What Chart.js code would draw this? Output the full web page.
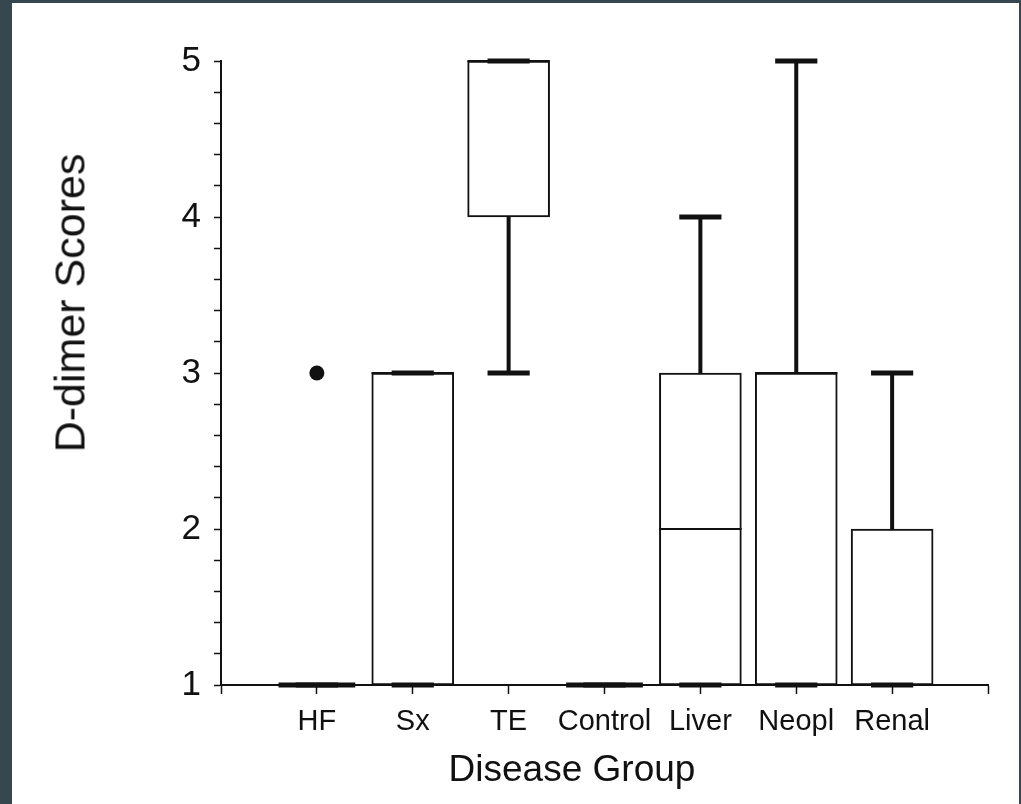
<!DOCTYPE html>
<html>
<head>
<meta charset="utf-8">
<title>D-dimer Scores by Disease Group</title>
<script src="https://cdn.jsdelivr.net/npm/chart.js@4.4.1/dist/chart.umd.min.js"></script>
<style>
  html, body { margin: 0; padding: 0; }
  body { width: 1021px; height: 804px; background: #37474f; position: relative; overflow: hidden; font-family: "Liberation Sans", Arial, sans-serif; }
  #panel { position: absolute; left: 12px; top: 3px; width: 1007px; height: 801px; background: #fff; }
  #chartBox { position: absolute; left: 0; top: 0; width: 1007px; height: 801px; }
  .axis-title { position: absolute; color: #111; white-space: nowrap; line-height: 1; }
  #yTitle { left: 58px; top: 300px; font-size: 43px; transform: translate(-50%, -50%) rotate(-90deg); }
  #xTitle { left: 560px; top: 765px; font-size: 37px; transform: translate(-50%, -50%); }
</style>
</head>
<body>
<div id="panel">
  <div id="chartBox"><canvas id="boxChart"></canvas></div>
  <div class="axis-title" id="yTitle">D-dimer Scores</div>
  <div class="axis-title" id="xTitle">Disease Group</div>
</div>
<script>
// box plot values
const categories = ["HF", "Sx", "TE", "Control", "Liver", "Neopl", "Renal"];
const minValues = [1, 1, 3, 1, 1, 1, 1];
const q1Values = [1, 1, 4, 1, 1, 1, 1];
const medianValues = [1, 3, 5, 1, 2, 3, 1];
const q3Values = [1, 3, 5, 1, 3, 3, 2];
const maxValues = [1, 3, 5, 1, 4, 5, 3];
const outlierGroups = ["HF"];
const outlierValues = [3];
const yTicks = [1, 2, 3, 4, 5];

const ink = "#111";
const boxHalf = 0.43;
const capHalf = 0.22;
const flatHalf = 0.40;

const boxes = [];
const whiskers = [];
const caps = [];
const medians = [];
const flatBoxes = [];

categories.forEach((name, i) => {
    const x = i + 1;
    if (q1Values[i] < q3Values[i]) {
        boxes.push({ x: x, y: [q1Values[i], q3Values[i]] });
        medians.push({ x: x - boxHalf, y: medianValues[i] }, { x: x + boxHalf, y: medianValues[i] }, { x: x, y: null });
    } else {
        flatBoxes.push({ x: x - flatHalf, y: q1Values[i] }, { x: x + flatHalf, y: q1Values[i] }, { x: x, y: null });
    }
    whiskers.push({ x: x, y: q3Values[i] }, { x: x, y: maxValues[i] }, { x: x, y: null });
    whiskers.push({ x: x, y: q1Values[i] }, { x: x, y: minValues[i] }, { x: x, y: null });
    caps.push({ x: x - capHalf, y: maxValues[i] }, { x: x + capHalf, y: maxValues[i] }, { x: x, y: null });
    caps.push({ x: x - capHalf, y: minValues[i] }, { x: x + capHalf, y: minValues[i] }, { x: x, y: null });
});

const outliers = outlierGroups.map((g, k) => ({ x: categories.indexOf(g) + 1, y: outlierValues[k] }));

function lineSet(data, width, order) {
    return {
        type: "line",
        data: data,
        borderColor: ink,
        borderWidth: width,
        borderCapStyle: "butt",
        pointRadius: 0,
        fill: false,
        tension: 0,
        spanGaps: false,
        clip: false,
        order: order
    };
}

const ctx = document.getElementById("boxChart").getContext("2d");
new Chart(ctx, {
    type: "bar",
    data: {
        datasets: [
            {
                type: "bar",
                data: boxes,
                backgroundColor: "#fff",
                borderColor: ink,
                borderWidth: 2,
                borderSkipped: false,
                barThickness: 82,
                clip: false,
                order: 5
            },
            lineSet(medians, 2, 3),
            lineSet(whiskers, 4, 2),
            lineSet(caps, 5, 1),
            lineSet(flatBoxes, 5, 1),
            {
                type: "line",
                data: outliers,
                showLine: false,
                pointRadius: 7.5,
                pointBackgroundColor: ink,
                pointBorderWidth: 0,
                clip: false,
                order: 0
            }
        ]
    },
    options: {
        responsive: true,
        maintainAspectRatio: false,
        animation: false,
        events: [],
        layout: { padding: { top: 58, right: 31, left: 0, bottom: 0 } },
        plugins: { legend: { display: false }, tooltip: { enabled: false } },
        scales: {
            x: {
                type: "linear",
                min: 0,
                max: categories.length + 1,
                offset: false,
                afterFit: (scale) => { scale.height = 119; },
                border: { display: true, color: ink, width: 2 },
                grid: { drawOnChartArea: false, drawTicks: true, tickLength: 9, tickColor: ink, tickWidth: 1.5, offset: false },
                ticks: {
                    stepSize: 1,
                    autoSkip: false,
                    maxRotation: 0,
                    padding: 11,
                    color: ink,
                    font: { family: "'Liberation Sans', Arial, sans-serif", size: 29 },
                    callback: (v) => categories[v - 1] || ""
                }
            },
            y: {
                min: yTicks[0],
                max: yTicks[yTicks.length - 1],
                afterFit: (scale) => { scale.width = 209; },
                border: { display: true, color: ink, width: 2 },
                grid: { drawOnChartArea: false, drawTicks: true, tickLength: 7, tickColor: ink, tickWidth: 1.5 },
                ticks: {
                    stepSize: 0.2,
                    autoSkip: false,
                    padding: 13,
                    color: ink,
                    font: { family: "'Liberation Sans', Arial, sans-serif", size: 35 },
                    callback: (v) => {
                        const r = Math.round(v);
                        return Math.abs(v - r) < 1e-6 && yTicks.includes(r) ? String(r) : "";
                    }
                }
            }
        }
    }
});
</script>
</body>
</html>
